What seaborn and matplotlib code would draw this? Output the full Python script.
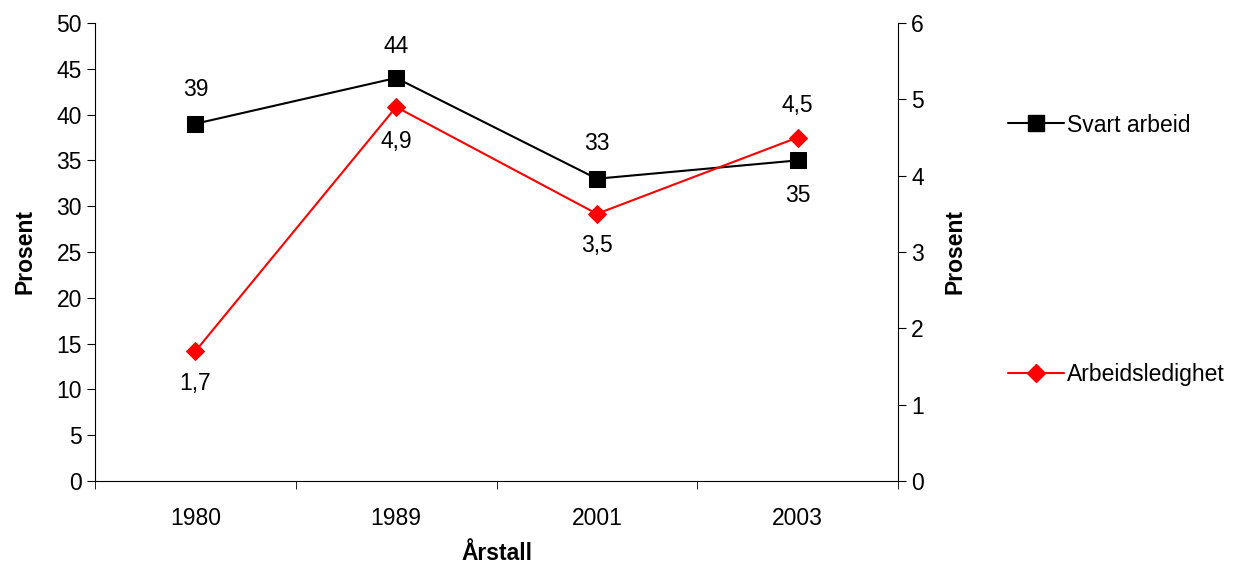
import matplotlib
matplotlib.use('Agg')
import matplotlib.pyplot as plt
import seaborn as sns
from matplotlib.lines import Line2D
from matplotlib.ticker import FixedLocator

years = ['1980', '1989', '2001', '2003']
svart_arbeid = [39, 44, 33, 35]
arbeidsledighet = [1.7, 4.9, 3.5, 4.5]
svart_labels = ['39', '44', '33', '35']
ledig_labels = ['1,7', '4,9', '3,5', '4,5']

sns.set_style('white')
plt.rcParams['font.family'] = ['Liberation Sans', 'DejaVu Sans']
plt.rcParams['font.size'] = 16.5
for k in ('text.color', 'axes.labelcolor', 'xtick.color', 'ytick.color'):
    plt.rcParams[k] = 'black'

fig = plt.figure(figsize=(12.55, 5.69), dpi=100)
ax = fig.add_axes([95 / 1255, 88 / 569, 803 / 1255, 458 / 569])
ax2 = ax.twinx()

pos = list(range(len(years)))
sns.lineplot(x=pos, y=svart_arbeid, ax=ax, color='black', marker='s', markersize=11,
             markeredgecolor='black', linewidth=1.5)
sns.lineplot(x=pos, y=arbeidsledighet, ax=ax2, color='#ff0000', marker='D', markersize=9,
             markeredgecolor='#ff0000', linewidth=1.5)

ax.set_xlim(-0.5, 3.5)
ax.set_ylim(0, 50)
ax2.set_ylim(0, 6)
ax.set_yticks(range(0, 51, 5))
ax2.set_yticks(range(0, 7))
ax.set_xticks(pos)
ax.set_xticklabels(years)
ax.xaxis.set_minor_locator(FixedLocator([-0.5, 0.5, 1.5, 2.5, 3.5]))
ax.tick_params(axis='x', which='major', length=0, pad=19)
ax.tick_params(axis='x', which='minor', length=6, direction='out', color='black', bottom=True)
ax.tick_params(axis='y', length=6, direction='out', color='black', left=True)
ax2.tick_params(axis='y', length=6, direction='out', color='black', right=True)
for a in (ax, ax2):
    for s in a.spines.values():
        s.set_visible(False)
    a.grid(False)
ax.spines['left'].set_visible(True)
ax.spines['bottom'].set_visible(True)
ax2.spines['right'].set_visible(True)
for s in ('left', 'bottom'):
    ax.spines[s].set_color('black')
ax2.spines['right'].set_color('black')

ax.set_ylabel('Prosent', fontweight='bold', labelpad=14)
ax2.set_ylabel('Prosent', fontweight='bold', labelpad=14)
ax.set_xlabel('Årstall', fontweight='bold', labelpad=8)

svart_off = [25, 23, 25, -25]
for x, y, t, o in zip(pos, svart_arbeid, svart_labels, svart_off):
    ax.annotate(t, (x, y), xytext=(0, o), textcoords='offset points', ha='center', va='center')
ledig_off = [-23, -25, -23, 23]
for x, y, t, o in zip(pos, arbeidsledighet, ledig_labels, ledig_off):
    ax2.annotate(t, (x, y), xytext=(0, o), textcoords='offset points', ha='center', va='center')

h1 = Line2D([], [], color='black', marker='s', markersize=11, linewidth=1.5)
h2 = Line2D([], [], color='#ff0000', marker='D', markersize=9, linewidth=1.5)
fig.legend([h1], ['Svart arbeid'], loc='center left', bbox_to_anchor=(1008 / 1255, 1 - 125 / 569),
           frameon=False, handlelength=2.45, handletextpad=0.12, borderaxespad=0, borderpad=0)
fig.legend([h2], ['Arbeidsledighet'], loc='center left', bbox_to_anchor=(1008 / 1255, 1 - 375 / 569),
           frameon=False, handlelength=2.45, handletextpad=0.12, borderaxespad=0, borderpad=0)

fig.savefig('out.png', dpi=100)
